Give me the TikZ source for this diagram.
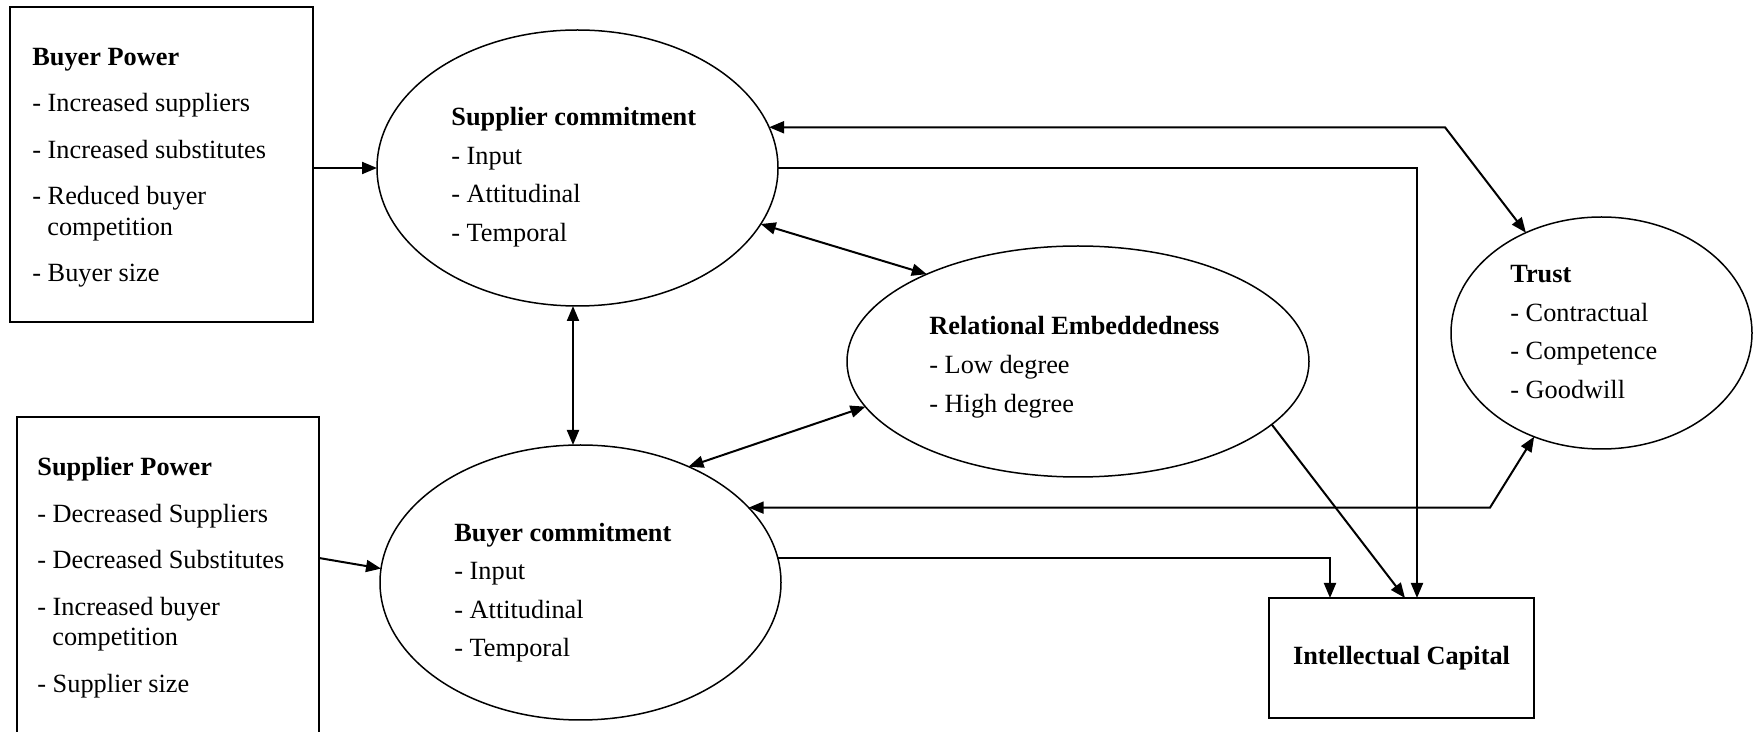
\documentclass[tikz,border=0pt]{standalone}
\usepackage{fontspec}
\setmainfont{Liberation Serif}
\usetikzlibrary{arrows.meta,shapes.geometric}
\begin{document}
\begin{tikzpicture}[x=0.5pt,y=-0.5pt,
  txt/.style={anchor=base west,inner sep=0,font=\fontsize{13.15}{15.5}\selectfont},
  hd/.style={txt,font=\fontsize{13.15}{15.5}\selectfont\bfseries},
  box/.style={draw,line width=1pt,inner sep=0,outer sep=0},
  ell/.style={draw,ellipse,line width=0.75pt,inner sep=0,outer sep=0},
  conn/.style={line width=1pt},
  tip/.tip={Triangle[length=7.5pt,width=6pt]},
  arr/.style={conn,-tip},
  darr/.style={conn,tip-tip}]
\useasboundingbox (0,0) rectangle (1753,732);

% boxes
\node[box,minimum width=151.5pt,minimum height=157.5pt] (bp) at (161.5,164.5) {};
\node[box,minimum width=151pt,minimum height=171.5pt] (sp) at (168,588.5) {};
\node[box,minimum width=132.5pt,minimum height=60pt,font=\fontsize{13.15}{15.5}\selectfont\bfseries] (ic) at (1401.5,658) {Intellectual Capital};

% ellipses
\node[ell,minimum width=200.5pt,minimum height=138pt] (sc) at (577.5,168) {};
\node[ell,minimum width=200.5pt,minimum height=137.5pt] (bc) at (580.5,582.5) {};
\node[ell,minimum width=231pt,minimum height=115.5pt] (re) at (1078,361.5) {};
\node[ell,minimum width=150.5pt,minimum height=116pt] (tr) at (1601.5,333) {};

% Buyer Power text
\node[hd] (bpt) at (32,66) {Buyer Power};
\node[txt] (bp1) at (32,112) {- Increased suppliers};
\node[txt] (bp2) at (32,158.5) {- Increased substitutes};
\node[txt] (bp3) at (32,205) {- Reduced buyer};
\node[txt] (bp3b) at (47,236) {competition};
\node[txt] (bp4) at (32,282) {- Buyer size};

% Supplier Power text
\node[hd] (spt) at (37,476) {Supplier Power};
\node[txt] (sp1) at (37,522.5) {- Decreased Suppliers};
\node[txt] (sp2) at (37,569) {- Decreased Substitutes};
\node[txt] (sp3) at (37,615.5) {- Increased buyer};
\node[txt] (sp3b) at (52,646) {competition};
\node[txt] (sp4) at (37,693) {- Supplier size};

% Supplier commitment text
\node[hd] (sct) at (451,126) {Supplier commitment};
\node[txt] (sc1) at (451,164.5) {- Input};
\node[txt] (sc2) at (451,203) {- Attitudinal};
\node[txt] (sc3) at (451,241.5) {- Temporal};

% Buyer commitment text
\node[hd] (bct) at (454,541.5) {Buyer commitment};
\node[txt] (bc1) at (454,580) {- Input};
\node[txt] (bc2) at (454,618.5) {- Attitudinal};
\node[txt] (bc3) at (454,657) {- Temporal};

% Relational Embeddedness text
\node[hd] (ret) at (929,335) {Relational Embeddedness};
\node[txt] (re1) at (929,374) {- Low degree};
\node[txt] (re2) at (929,413) {- High degree};

% Trust text
\node[hd] (trt) at (1510,283) {Trust};
\node[txt] (tr1) at (1510,321.5) {- Contractual};
\node[txt] (tr2) at (1510,360) {- Competence};
\node[txt] (tr3) at (1510,398.5) {- Goodwill};

% corner coordinates
\coordinate (k1) at (1445,129);
\coordinate (k2) at (1490,508);

% connectors
\draw[arr] (bp.east |- sc.west) -- (sc.west);
\draw[arr] ([yshift=-70.5pt]sp.north east) -- (bc.176);
\draw[darr] ([xshift=-2.25pt]sc.south) -- ([xshift=-3.75pt]bc.north);
\draw[darr] (sc.343) -- (re.150);
\draw[darr] (bc.47) -- (re.192);
\draw[darr] (sc.12) -- (sc.12 -| k1) -- (tr.127);
\draw[arr] (sc.east) -| ([xshift=7.75pt]ic.north);
\draw[arr] (re.342) -- ([xshift=1.75pt]ic.north);
\draw[darr] (bc.24) -- (bc.24 -| k2) -- (tr.237);
\draw[arr] (bc.7) -| ([xshift=-35.75pt]ic.north);
\end{tikzpicture}
\end{document}
